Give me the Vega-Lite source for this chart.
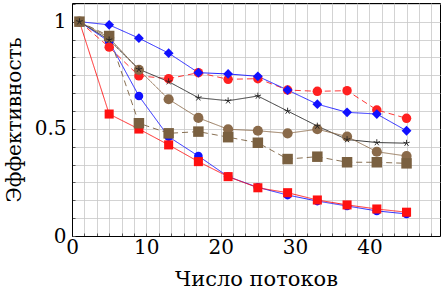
{
  "$schema": "https://vega.github.io/schema/vega-lite/v6.json",
  "width": 368,
  "height": 233,
  "autosize": "none",
  "padding": {"left": 72, "top": 3, "right": 1, "bottom": 55},
  "background": "white",
  "config": {
    "view": {"stroke": "black", "strokeWidth": 1},
    "font": "DejaVu Serif",
    "axis": {"gridColor": "#c8c8c8", "gridWidth": 0.8, "domainColor": "black", "tickColor": "#555555", "labelFont": "DejaVu Serif", "titleFont": "DejaVu Serif", "labelColor": "black", "titleColor": "black", "titleFontWeight": "normal"}
  },
  "data": {"values": [
    {"s": "bc", "x": 1, "y": 1}, {"s": "bc", "x": 5, "y": 0.907}, {"s": "bc", "x": 9, "y": 0.653}, {"s": "bc", "x": 13, "y": 0.463}, {"s": "bc", "x": 17, "y": 0.373}, {"s": "bc", "x": 21, "y": 0.277}, {"s": "bc", "x": 25, "y": 0.227}, {"s": "bc", "x": 29, "y": 0.191}, {"s": "bc", "x": 33, "y": 0.163}, {"s": "bc", "x": 37, "y": 0.14}, {"s": "bc", "x": 41, "y": 0.117}, {"s": "bc", "x": 45, "y": 0.103},
    {"s": "rs", "x": 1, "y": 1}, {"s": "rs", "x": 5, "y": 0.569}, {"s": "rs", "x": 9, "y": 0.499}, {"s": "rs", "x": 13, "y": 0.425}, {"s": "rs", "x": 17, "y": 0.347}, {"s": "rs", "x": 21, "y": 0.277}, {"s": "rs", "x": 25, "y": 0.225}, {"s": "rs", "x": 29, "y": 0.202}, {"s": "rs", "x": 33, "y": 0.168}, {"s": "rs", "x": 37, "y": 0.145}, {"s": "rs", "x": 41, "y": 0.126}, {"s": "rs", "x": 45, "y": 0.111},
    {"s": "rc", "x": 1, "y": 1}, {"s": "rc", "x": 5, "y": 0.881}, {"s": "rc", "x": 9, "y": 0.747}, {"s": "rc", "x": 13, "y": 0.734}, {"s": "rc", "x": 17, "y": 0.762}, {"s": "rc", "x": 21, "y": 0.731}, {"s": "rc", "x": 25, "y": 0.734}, {"s": "rc", "x": 29, "y": 0.681}, {"s": "rc", "x": 33, "y": 0.675}, {"s": "rc", "x": 37, "y": 0.678}, {"s": "rc", "x": 41, "y": 0.588}, {"s": "rc", "x": 45, "y": 0.549},
    {"s": "bd", "x": 1, "y": 1}, {"s": "bd", "x": 5, "y": 0.985}, {"s": "bd", "x": 9, "y": 0.923}, {"s": "bd", "x": 13, "y": 0.853}, {"s": "bd", "x": 17, "y": 0.762}, {"s": "bd", "x": 21, "y": 0.756}, {"s": "bd", "x": 25, "y": 0.745}, {"s": "bd", "x": 29, "y": 0.681}, {"s": "bd", "x": 33, "y": 0.615}, {"s": "bd", "x": 37, "y": 0.577}, {"s": "bd", "x": 41, "y": 0.569}, {"s": "bd", "x": 45, "y": 0.491},
    {"s": "ks", "x": 1, "y": 1}, {"s": "ks", "x": 5, "y": 0.915}, {"s": "ks", "x": 9, "y": 0.778}, {"s": "ks", "x": 13, "y": 0.72}, {"s": "ks", "x": 17, "y": 0.645}, {"s": "ks", "x": 21, "y": 0.631}, {"s": "ks", "x": 25, "y": 0.653}, {"s": "ks", "x": 29, "y": 0.583}, {"s": "ks", "x": 33, "y": 0.513}, {"s": "ks", "x": 37, "y": 0.45}, {"s": "ks", "x": 41, "y": 0.436}, {"s": "ks", "x": 45, "y": 0.433},
    {"s": "brc", "x": 1, "y": 1}, {"s": "brc", "x": 5, "y": 0.925}, {"s": "brc", "x": 9, "y": 0.775}, {"s": "brc", "x": 13, "y": 0.638}, {"s": "brc", "x": 17, "y": 0.551}, {"s": "brc", "x": 21, "y": 0.498}, {"s": "brc", "x": 25, "y": 0.491}, {"s": "brc", "x": 29, "y": 0.479}, {"s": "brc", "x": 33, "y": 0.498}, {"s": "brc", "x": 37, "y": 0.464}, {"s": "brc", "x": 41, "y": 0.393}, {"s": "brc", "x": 45, "y": 0.373},
    {"s": "brs", "x": 1, "y": 1}, {"s": "brs", "x": 5, "y": 0.933}, {"s": "brs", "x": 9, "y": 0.526}, {"s": "brs", "x": 13, "y": 0.479}, {"s": "brs", "x": 17, "y": 0.487}, {"s": "brs", "x": 21, "y": 0.461}, {"s": "brs", "x": 25, "y": 0.435}, {"s": "brs", "x": 29, "y": 0.359}, {"s": "brs", "x": 33, "y": 0.37}, {"s": "brs", "x": 37, "y": 0.344}, {"s": "brs", "x": 41, "y": 0.344}, {"s": "brs", "x": 45, "y": 0.339}
  ]},
  "encoding": {
    "x": {"field": "x", "type": "quantitative", "scale": {"domain": [0, 49.5], "nice": false, "zero": false},
      "axis": {"title": "Число потоков", "titleFontSize": 21, "titlePadding": 11, "labelFontSize": 20, "labelPadding": 4, "labelOverlap": false, "labelFlush": false, "tickSize": -3, "domain": true,
        "values": [0, 1.6667, 3.3333, 5, 6.6667, 8.3333, 10, 11.6667, 13.3333, 15, 16.6667, 18.3333, 20, 21.6667, 23.3333, 25, 26.6667, 28.3333, 30, 31.6667, 33.3333, 35, 36.6667, 38.3333, 40, 41.6667, 43.3333, 45, 46.6667, 48.3333],
        "labelExpr": "abs(datum.value/10 - round(datum.value/10)) < 0.001 ? format(datum.value, 'd') : ''"}},
    "y": {"field": "y", "type": "quantitative", "scale": {"domain": [0, 1.087], "nice": false},
      "axis": {"title": "Эффективность", "titleFontSize": 20, "titlePadding": 10, "labelFontSize": 20, "labelPadding": 9, "labelOverlap": false, "labelFlush": false, "tickSize": -3,
        "values": [0, 0.08333, 0.16667, 0.25, 0.33333, 0.41667, 0.5, 0.58333, 0.66667, 0.75, 0.83333, 0.91667, 1, 1.08333],
        "labelExpr": "datum.value < 0.01 ? '0' : abs(datum.value - 0.5) < 0.001 ? '0.5' : abs(datum.value - 1) < 0.001 ? '1' : ''"}}
  },
  "layer": [
    {"mark": {"type": "line", "strokeWidth": 0.9},
      "encoding": {
        "detail": {"field": "s"},
        "color": {"field": "s", "type": "nominal", "legend": null, "scale": {"domain": ["bc", "rs", "rc", "bd", "ks", "brc", "brs"], "range": ["#1010ff", "#ff1010", "#ff2020", "#1010ff", "#202020", "#8a6a4a", "#7a6040"]}},
        "strokeDash": {"field": "s", "type": "nominal", "legend": null, "scale": {"domain": ["bc", "rs", "rc", "bd", "ks", "brc", "brs"], "range": [[1, 0], [1, 0], [6, 4], [1, 0], [1, 0], [1, 0], [6, 4]]}}
      }},
    {"transform": [{"filter": "datum.s != 'ks'"}],
      "mark": {"type": "point", "filled": true, "opacity": 1, "strokeWidth": 0.6},
      "encoding": {
        "color": {"field": "s", "type": "nominal", "legend": null, "scale": {"domain": ["bc", "rs", "rc", "bd", "brc", "brs"], "range": ["#0a0aff", "#e60000", "#ee0000", "#0a0aee", "#a86a2c", "#a86a2c"]}},
        "shape": {"field": "s", "type": "nominal", "legend": null, "scale": {"domain": ["bc", "rs", "rc", "bd", "brc", "brs"], "range": ["circle", "square", "circle", "diamond", "circle", "square"]}},
        "size": {"field": "s", "type": "nominal", "legend": null, "scale": {"domain": ["bc", "rs", "rc", "bd", "brc", "brs"], "range": [75, 110, 100, 60, 95, 110]}}
      }},
    {"transform": [{"filter": "datum.s == 'ks'"}],
      "mark": {"type": "point", "filled": false, "color": "#202020", "strokeWidth": 0.9, "size": 45, "opacity": 1,
        "shape": "M0,-1L0,0M0,0L0.95,-0.31M0,0L0.59,0.81M0,0L-0.59,0.81M0,0L-0.95,-0.31"},
      "encoding": {}}
  ]
}
